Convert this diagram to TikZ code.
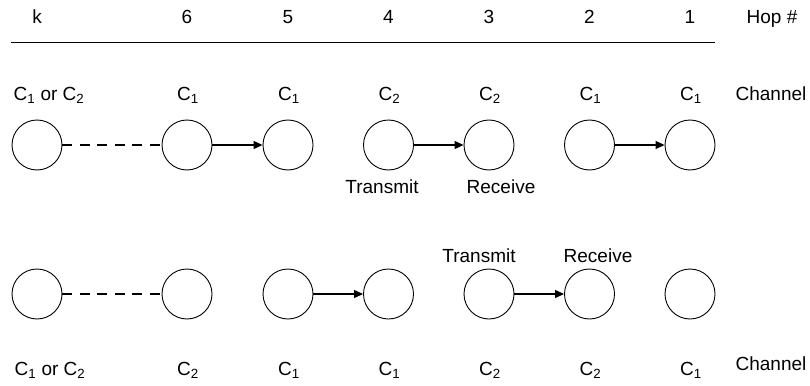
\documentclass[tikz,border=0pt]{standalone}
\usepackage{fontspec}
\setmainfont{Liberation Sans}
\usetikzlibrary{arrows.meta}
\begin{document}
\begin{tikzpicture}[x=1pt,y=-1pt,
  hop/.style={circle,draw,line width=0.9pt,minimum size=50pt,inner sep=0pt},
  lbl/.style={font=\fontsize{19}{21}\selectfont,inner sep=0pt,anchor=base},
  arr/.style={line width=1.1pt,-{Triangle[length=9pt,width=8pt]}},
  dsh/.style={line width=1.1pt,dash pattern=on 10pt off 7.5pt}]
\useasboundingbox (0,0) rectangle (810,385);
% header
\foreach \n/\x in {k/37,6/187,5/288,4/388.5,3/489,2/589.5,1/690}
  \node[lbl] (h\n) at (\x,24) {\n};
\node[lbl] (hh) at (772,24) {Hop \#};
\coordinate (l1) at (11,42);
\coordinate (l2) at (715,42);
\draw[line width=0.9pt] (l1) -- (l2);
% row 1 circles
\foreach \n/\x in {k/37,6/187,5/288,4/388.5,3/489,2/589.5,1/690}
  \node[hop] (a\n) at (\x,145) {};
% row 1 channels
\node[lbl] (ca) at (49,100) {C\textsubscript{1} or C\textsubscript{2}};
\node[lbl] (cb) at (188,100) {C\textsubscript{1}};
\node[lbl] (cc) at (289,100) {C\textsubscript{1}};
\node[lbl] (cd) at (389.5,100) {C\textsubscript{2}};
\node[lbl] (ce) at (490,100) {C\textsubscript{2}};
\node[lbl] (cf) at (590.5,100) {C\textsubscript{1}};
\node[lbl] (cg) at (691,100) {C\textsubscript{1}};
\node[lbl] (ch) at (771,100) {Channel};
\node[lbl] (t1) at (382,193) {Transmit};
\node[lbl] (r1) at (501,193) {Receive};
\draw[dsh] (ak) -- (a6);
\draw[arr] (a6) -- (a5);
\draw[arr] (a4) -- (a3);
\draw[arr] (a2) -- (a1);
% row 2 circles
\foreach \n/\x in {k/37,6/187,5/288,4/388.5,3/489,2/589.5,1/690}
  \node[hop] (b\n) at (\x,294) {};
\node[lbl] (t2) at (479,262) {Transmit};
\node[lbl] (r2) at (598,262) {Receive};
\draw[dsh] (bk) -- (b6);
\draw[arr] (b5) -- (b4);
\draw[arr] (b3) -- (b2);
% row 2 channels
\node[lbl] (da) at (50,375) {C\textsubscript{1} or C\textsubscript{2}};
\node[lbl] (db) at (188,375) {C\textsubscript{2}};
\node[lbl] (dc) at (289,375) {C\textsubscript{1}};
\node[lbl] (dd) at (389.5,375) {C\textsubscript{1}};
\node[lbl] (de) at (490,375) {C\textsubscript{2}};
\node[lbl] (df) at (590.5,375) {C\textsubscript{2}};
\node[lbl] (dg) at (691,375) {C\textsubscript{1}};
\node[lbl] (dh) at (771,370) {Channel};
\end{tikzpicture}
\end{document}
